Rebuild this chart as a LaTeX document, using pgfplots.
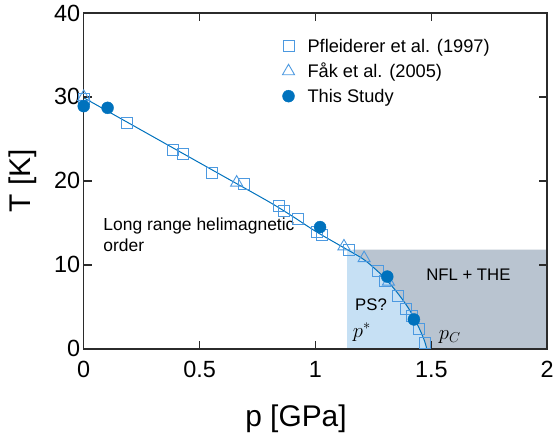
\documentclass[border=0pt]{standalone}
\usepackage{fontspec}
\setmainfont{Liberation Sans}
\usepackage{pgfplots}
\pgfplotsset{compat=1.18}

\definecolor{mblue}{rgb}{0,0.447,0.741}
\definecolor{hollow}{rgb}{0.30,0.60,0.88}
\definecolor{psblue}{HTML}{C6E0F4}
\definecolor{nflgray}{HTML}{B9C4D0}
\definecolor{axgray}{rgb}{0.17,0.17,0.17}

\begin{document}
\begin{tikzpicture}
\begin{axis}[
    width=465pt, height=337pt, scale only axis,
    xmin=0, xmax=2, ymin=0, ymax=40,
    xtick={0,0.5,1,1.5,2},
    xticklabels={0,0.5,1,1.5,2},
    ytick={0,10,20,30,40},
    axis line style={line width=1.5pt, axgray},
    tick style={line width=1.5pt, axgray},
    major tick length=8pt,
    axis on top,
    /pgf/number format/assume math mode=true,
    tick label style={font=\fontsize{23.5}{26}\selectfont, text=black},
    xticklabel style={yshift=-9pt},
    xlabel={p [GPa]}, ylabel={T [K]},
    label style={font=\fontsize{30}{33}\selectfont},
    xlabel style={at={(axis description cs:0.458,-0.208)}, anchor=center},
    ylabel style={at={(axis description cs:-0.131,0.50)}, anchor=center},
    legend style={at={(0.422,0.935)}, anchor=north west, draw=none, fill=none,
        font=\fontsize{18.3}{22}\selectfont, row sep=5.5pt,
        /tikz/every odd column/.append style={column sep=11pt},
        legend cell align=left},
]
% shaded regions
\addplot[draw=none, fill=psblue, forget plot] coordinates {
(1.135,0) (2,0) (2,11.8) (1.135,11.8)} -- cycle;
\addplot[draw=none, fill=nflgray, forget plot] coordinates {
(1.16,11.8) (1.2,10.8) (1.25,9.7) (1.3,8.4) (1.35,6.8) (1.4,4.9)
(1.44,2.9) (1.47,1.0) (1.482,0) (2,0) (2,11.8)} -- cycle;

% guide line through the data
\addplot[mblue, line width=1pt, smooth, forget plot] coordinates {
(0,29.9) (0.2,26.8) (0.4,23.7) (0.6,20.6) (0.8,17.5) (0.9,15.8)
(1.0,14.0) (1.1,12.4) (1.2,10.8) (1.25,9.7) (1.3,8.4) (1.35,6.8)
(1.4,4.9) (1.44,2.9) (1.47,1.0) (1.485,-0.5)};

% Pfleiderer et al. (1997)
\addplot[only marks, mark=square, mark size=5.5pt, draw=hollow,
    mark options={draw=hollow, fill=none, line width=0.9pt}] coordinates {
(0,29.8) (0.185,26.9) (0.383,23.7) (0.43,23.2) (0.555,21.0) (0.69,19.6)
(0.843,17.0) (0.865,16.4) (0.925,15.5) (1.006,13.9) (1.03,13.6)
(1.144,11.8) (1.27,9.3) (1.30,8.1) (1.356,6.3) (1.39,4.8) (1.415,3.9)
(1.445,2.4) (1.474,0.7)};
\addlegendentry{Pfleiderer et al. (1997)}

% Fak et al. (2005)
\addplot[only marks, mark=triangle, mark size=7pt, draw=hollow,
    mark options={draw=hollow, fill=none, line width=0.9pt}] coordinates {
(0,30.0) (0.66,19.8) (1.123,12.2) (1.21,10.8) (1.315,8.0)};
\addlegendentry{Fåk et al. (2005)}

% This study
\addplot[only marks, mark=*, mark size=6pt, mblue] coordinates {
(0,28.9) (0.103,28.7) (1.02,14.5) (1.31,8.6) (1.425,3.5)};
\addlegendentry{This Study}

\node[anchor=north west, align=left, font=\fontsize{17.5}{21}\selectfont]
    at (axis cs:0.07,16.0) {Long range helimagnetic\\order};
\node[font=\fontsize{16.8}{20}\selectfont] at (axis cs:1.66,8.8) {NFL + THE};
\node[font=\fontsize{16.8}{20}\selectfont] at (axis cs:1.24,5.3) {PS?};
\node[font=\fontsize{21}{24}\selectfont] at (axis cs:1.20,2.0) {$p^*$};
\node[font=\fontsize{21}{24}\selectfont] at (axis cs:1.58,1.4) {$p_C$};
\end{axis}
\path ([xshift=-84pt,yshift=-87pt]current axis.south west)
    rectangle ([xshift=8pt,yshift=13pt]current axis.north east);
\end{tikzpicture}
\end{document}
